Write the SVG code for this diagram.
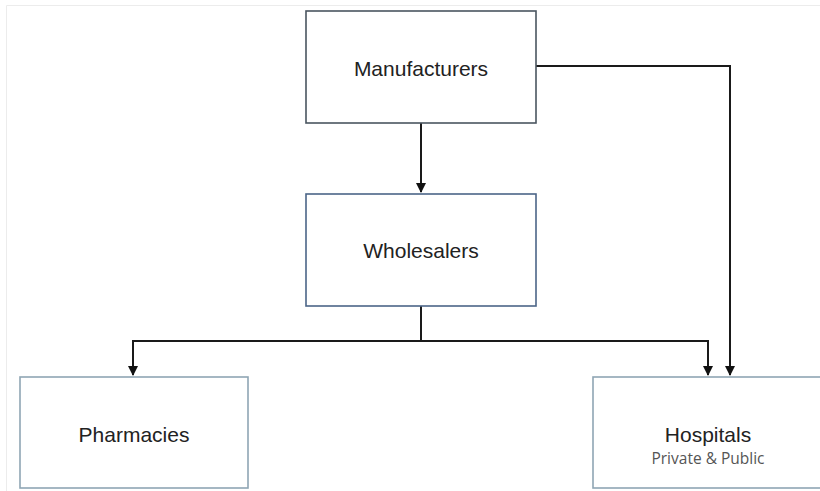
<svg xmlns="http://www.w3.org/2000/svg" width="820" height="491" viewBox="0 0 820 491">
<defs>
<style>
.box{fill:#ffffff;stroke-width:1.6}
.t{font-family:"Liberation Sans",Arial,sans-serif;font-size:21px;fill:#222;text-anchor:middle}
.s{font-family:"Open Sans","Noto Sans",sans-serif;font-size:15.5px;fill:#555;text-anchor:middle}
.c{fill:none;stroke:#1a1a1a;stroke-width:2}
</style>
<marker id="ah" viewBox="0 0 10 10" refX="9" refY="5" markerWidth="5" markerHeight="5" orient="auto" markerUnits="strokeWidth">
<path d="M0,0 L10,5 L0,10 z" fill="#111"/>
</marker>
</defs>
<rect x="0" y="0" width="820" height="491" fill="#ffffff"/>
<path d="M6.5,491 V5.5 H820" fill="none" stroke="#ececec" stroke-width="1"/>
<g id="connectors">
<path class="c" d="M421,123 V192" stroke-width="1.6" marker-end="url(#ah)"/>
<path class="c" d="M421,306 V341"/>
<path class="c" d="M708,341 H133 V375" marker-end="url(#ah)"/>
<path class="c" d="M421,341 H708 V375" marker-end="url(#ah)"/>
<path class="c" d="M536,66 H730 V375" stroke-width="1.6" marker-end="url(#ah)"/>
</g>
<g id="manufacturers">
<rect class="box" x="306" y="11" width="230" height="112" stroke="#4a5560"/>
<text class="t" x="421" y="76">Manufacturers</text>
</g>
<g id="wholesalers">
<rect class="box" x="306" y="194" width="230" height="112" stroke="#4b6588"/>
<text class="t" x="421" y="258">Wholesalers</text>
</g>
<g id="pharmacies">
<rect class="box" x="20" y="377" width="228" height="111" stroke="#8fa6b4"/>
<text class="t" x="134" y="442">Pharmacies</text>
</g>
<g id="hospitals">
<rect class="box" x="593" y="377" width="240" height="111" stroke="#8fa6b4"/>
<text class="t" x="708" y="442">Hospitals</text>
<text class="s" x="708" y="464">Private &amp; Public</text>
</g>
</svg>
